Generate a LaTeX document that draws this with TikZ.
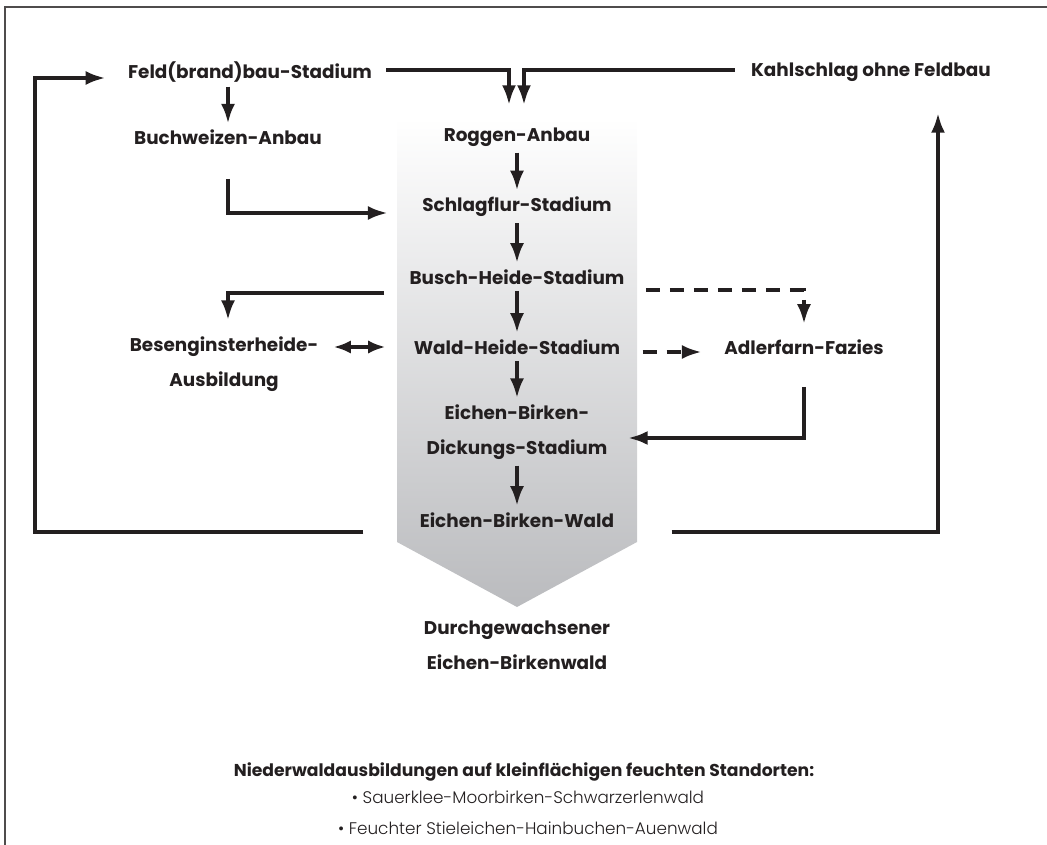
\documentclass[tikz,border=0pt]{standalone}
\usepackage{fontspec}
\setmainfont{Poppins}
\newfontfamily\thinfont{Poppins Light}
\usepackage{xcolor}
\usepackage{tikz}
\usetikzlibrary{arrows,arrows.meta}
\usetikzlibrary{calc}
\usetikzlibrary{positioning}

\definecolor{ink}{RGB}{35,31,32}
\definecolor{bandgray}{RGB}{186,187,190}

\begin{document}
\begin{tikzpicture}[x=0.75pt,y=-0.75pt,node distance=52.5pt, semithick]
 				 \tikzstyle{stage}=[font=\fontsize{13.8}{26}\selectfont\bfseries, text=ink, align=center, inner sep=0pt]
 				 \tikzstyle{flow}=[draw=ink, line width=3.5pt, -{Latex[length=15pt,width=10.5pt]}]
 				 \tikzstyle{maybe}=[flow, dash pattern=on 11pt off 7pt]
			\useasboundingbox (0,0) rectangle (1047,845);
			\draw[line width=1.4pt, ink!80] (5,845) -- (5,7) -- (1047,7);

			% grey band behind the main sequence
			\shade[top color=white, bottom color=bandgray] (397,118) -- (637,118) -- (637,542) -- (517,607) -- (397,542) -- cycle;

			\node[stage] (feld) at (250,72) {Feld(brand)bau-Stadium};
			\node[stage] (kahl) at (871,72) {Kahlschlag ohne Feldbau};
			\node[stage] (buch) at (228,137) {Buchweizen-Anbau};
			\node[stage] (roggen) at (517,137) {Roggen-Anbau};
			\node[stage] (schlag) [below of=roggen] {Schlagflur-Stadium};
			\node[stage] (busch) [below of=schlag] {Busch-Heide-Stadium};
			\node[stage] (wald) [below of=busch] {Wald-Heide-Stadium};
			\node[stage] (dick) at (517,432) {Eichen-Birken-\\Dickungs-Stadium};
			\node[stage] (ebw) at (517,520) {Eichen-Birken-Wald};
			\node[stage] (durch) at (517,645) {Durchgewachsener\\Eichen-Birkenwald};
			\node[stage] (besen) at (224,364) {Besenginsterheide-\\Ausbildung};
			\node[stage] (adler) at (804,347) {Adlerfarn-Fazies};

			\node[font=\fontsize{12.9}{14}\selectfont\bfseries, text=ink, inner sep=0pt] (nieder) at (524,772) {Niederwaldausbildungen auf kleinfl\"achigen feuchten Standorten:};
			\node[font=\fontsize{12.6}{14}\selectfont\thinfont, text=ink, inner sep=0pt] (sauer) at (528,797) {• Sauerklee-Moorbirken-Schwarzerlenwald};
			\node[font=\fontsize{12.6}{14}\selectfont\thinfont, text=ink, inner sep=0pt] (feucht) at (528,828) {• Feuchter Stieleichen-Hainbuchen-Auenwald};

			\coordinate (westrail) at (35,300);

			% main sequence
			\foreach \a/\b in {roggen/schlag, schlag/busch, busch/wald, wald/dick, dick/ebw}{
			 \draw[flow, shorten <=4.5pt, shorten >=4.5pt] (\a.south) -- (\b.north);
			}

			\draw[flow] ($(feld.east)+(14,-2)$) -| ($(roggen.north)+(-8,-22)$);
			\draw[flow] ($(kahl.west)+(-16,-2)$) -| ($(roggen.north)+(7,-22)$);
			\draw[flow, shorten <=3pt, shorten >=4pt] (feld.south -| buch.north) -- (buch.north);
			\draw[flow] ($(buch.south)+(0,34)$) |- ($(schlag.west)+(-34,6)$);
			\draw[flow] ($(busch.west)+(-25,16)$) -| ($(besen.north)+(4,-16)$);
			\draw[flow, {Latex[length=13pt,width=10pt]}-{Latex[length=13pt,width=10pt]}] ($(besen.east |- wald.west)+(15,0)$) -- ($(wald.west)+(-28,0)$);
			\draw[maybe] ($(busch.east)+(21,13)$) -| ($(adler.north)+(0,-15)$);
			\draw[maybe] ($(wald.east)+(22,5)$) -- ($(adler.west)+(-22,5)$);
			\draw[flow] ($(adler.south)+(0,32)$) |- ($(dick.east)+(20,6)$);
			\draw[flow] ($(ebw.west)+(-56,12)$) -| (westrail) |- ($(feld.west)+(-22,6)$);
			\draw[flow] ($(ebw.east)+(57,12)$) -| ($(kahl.south)+(67,31)$);
 	\end{tikzpicture}
\end{document}
